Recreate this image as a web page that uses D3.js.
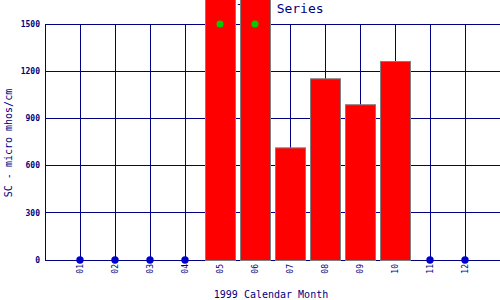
<!DOCTYPE html>
<html><head><meta charset="utf-8">
<script src="https://cdn.jsdelivr.net/npm/d3@7"></script>
<style>html,body{margin:0;padding:0;background:#fff;}svg{display:block;}</style>
</head><body>
<svg id="c" width="500" height="300"></svg>
<script>
const months = ["01","02","03","04","05","06","07","08","09","10","11","12"];
const values = [null,null,null,null,1700,1700,716,1155,990,1265,null,null];
const yTicks = [0,300,600,900,1200,1500];
const title = "Time Series";
const xTitle = "1999 Calendar Month";
const yTitle = "SC - micro mhos/cm";

const navy = "#000080";
const svg = d3.select("#c");
const x = d3.scaleLinear().domain([0,13]).range([45,500]);
const y = d3.scaleLinear().domain([0,1500]).range([260,24]);
const yMax = 1500;

// title (drawn first, bars overlap it)
svg.append("text").attr("x",237.5).attr("y",13)
  .attr("font-family","DejaVu Sans Mono").attr("font-size",13).attr("fill",navy)
  .text(title);

// grid
const g = svg.append("g").attr("shape-rendering","crispEdges").attr("stroke",navy).attr("stroke-width",1);
g.selectAll(".h").data(yTicks).join("line")
  .attr("x1",x(0)).attr("x2",x(13)).attr("y1",d=>y(d)).attr("y2",d=>y(d));
g.selectAll(".v").data(d3.range(0,13)).join("line")
  .attr("x1",d=>x(d)).attr("x2",d=>x(d)).attr("y1",y(1500)).attr("y2",y(0));

// y tick labels
svg.selectAll(".yt").data(yTicks).join("text")
  .attr("x",40).attr("y",d=>y(d)).attr("dy","0.35em").attr("text-anchor","end")
  .attr("font-family","DejaVu Sans Mono").attr("font-weight","bold").attr("font-size",8).attr("fill",navy)
  .text(d=>d);

// x tick labels
svg.selectAll(".xt").data(months).join("text")
  .attr("transform",(d,i)=>`translate(${x(i+1)+3},264) rotate(-90)`)
  .attr("text-anchor","end")
  .attr("font-family","DejaVu Sans Mono").attr("font-size",8).attr("fill",navy)
  .text(d=>d);

// bars
const data = months.map((m,i)=>({m, i, v: values[i]}));
svg.selectAll(".bar").data(data.filter(d=>d.v!==null)).join("rect")
  .attr("x",d=>x(d.i+1)-15+0.5).attr("width",30)
  .attr("y",d=>y(d.v)+0.5).attr("height",d=>y(0)-y(d.v))
  .attr("fill","#ff0000").attr("stroke","#808080").attr("stroke-width",1);

// off-scale markers
svg.selectAll(".off").data(data.filter(d=>d.v!==null && d.v>yMax)).join("circle")
  .attr("cx",d=>x(d.i+1)).attr("cy",y(yMax)).attr("r",3.5).attr("fill","#00cc00");

// missing markers
svg.selectAll(".miss").data(data.filter(d=>d.v===null)).join("circle")
  .attr("cx",d=>x(d.i+1)).attr("cy",y(0)).attr("r",3.7).attr("fill","#0000cc");

// axis titles
svg.append("text").attr("x",271).attr("y",298).attr("text-anchor","middle")
  .attr("font-family","DejaVu Sans Mono").attr("font-size",10).attr("fill",navy).text(xTitle);
svg.append("text").attr("transform","translate(12,143) rotate(-90)").attr("text-anchor","middle")
  .attr("font-family","DejaVu Sans Mono").attr("font-size",10).attr("fill",navy).text(yTitle);
</script>
</body></html>
